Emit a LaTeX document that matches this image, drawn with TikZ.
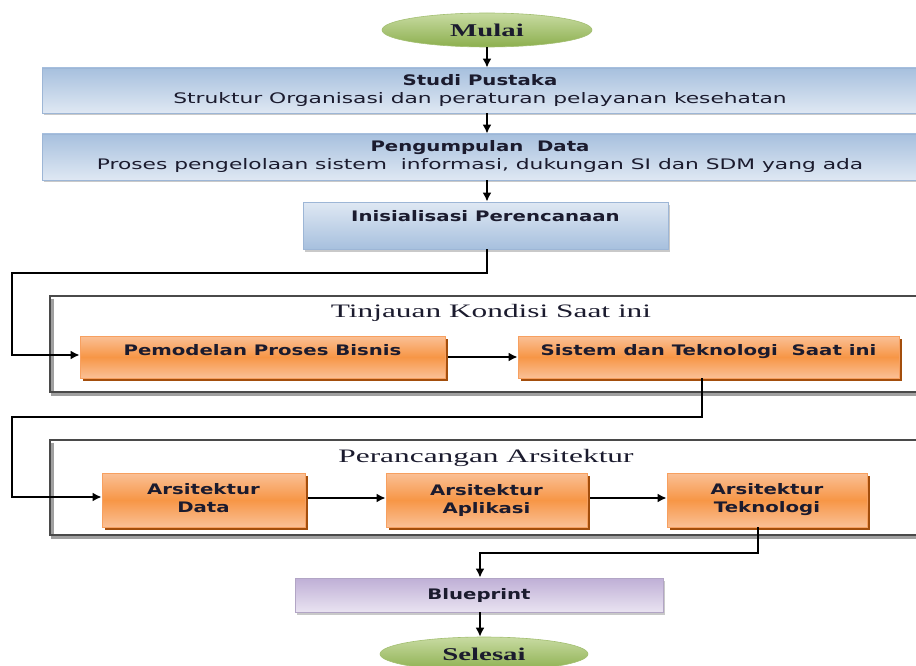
\documentclass[tikz,border=0pt]{standalone}
\usepackage{fontspec}
\usetikzlibrary{arrows.meta,shapes.geometric,shadows}
\newfontfamily\boxreg[FakeStretch=1.5]{DejaVu Sans}
\newfontfamily\boxbold[FakeStretch=1.36]{DejaVu Sans}
\newfontfamily\titlefont[FakeStretch=1.65]{Liberation Serif}
\newfontfamily\termfont[FakeStretch=1.6]{Liberation Serif}
\definecolor{bluetop}{HTML}{A7C0DE}
\definecolor{bluebot}{HTML}{DFE8F3}
\definecolor{blueline}{HTML}{9DB6D6}
\definecolor{orangemid}{HTML}{F79646}
\definecolor{orangelt}{HTML}{FAC096}
\definecolor{orangeline}{HTML}{F7A060}
\definecolor{orangeshadow}{HTML}{A34E0C}
\definecolor{purptop}{HTML}{BFAFD6}
\definecolor{purpbot}{HTML}{E9E3F1}
\definecolor{greentop}{HTML}{C8DBA2}
\definecolor{greenbot}{HTML}{8CAF4E}
\definecolor{txtdark}{HTML}{1B1B2E}
\definecolor{framedark}{HTML}{4A4A4A}
\definecolor{framegray}{HTML}{A0A0A0}
\tikzset{
  arr/.style={line width=2pt, -{Latex[length=9pt,width=9pt]}},
  basebox/.style={rectangle, inner sep=0pt, align=center, text=txtdark,
    font=\fontsize{14.5}{18}\selectfont},
  bluebox/.style={basebox, draw=blueline, line width=0.8pt,
    drop shadow={shadow xshift=2pt, shadow yshift=-2.5pt, fill=black!35, opacity=0.6}},
  orangebox/.style={basebox, draw=orangeline, line width=0.8pt,
    top color=orangelt, bottom color=orangelt, middle color=orangemid,
    drop shadow={shadow xshift=3pt, shadow yshift=-3pt, fill=orangeshadow, opacity=1}},
  purplebox/.style={basebox, draw=purptop!80!gray, line width=0.8pt,
    top color=purptop, bottom color=purpbot,
    drop shadow={shadow xshift=2pt, shadow yshift=-2.5pt, fill=black!35, opacity=0.6}},
  termnode/.style={ellipse, inner sep=0pt, draw=greenbot!80!white, line width=0.6pt,
    top color=greentop, bottom color=greenbot, text=txtdark,
    font=\termfont\bfseries\fontsize{18}{20}\selectfont},
  frametitle/.style={inner sep=0pt, text=txtdark, font=\titlefont\fontsize{19}{22}\selectfont},
  framemain/.style={draw=framedark, line width=1.5pt},
  frameshade/.style={draw=framegray, line width=2.6pt},
}
\begin{document}
\begin{tikzpicture}[x=1pt,y=-1pt]
\useasboundingbox (0,0) rectangle (916,666);
\clip (0,0) rectangle (916,666);
\fill[white] (0,0) rectangle (916,666);

% frames
\draw[frameshade] (52.5,298.5) -- (52.5,394.5) -- (920,394.5);
\draw[framemain] (920,296) -- (50,296) -- (50,392) -- (920,392);
\draw[frameshade] (52.5,442.5) -- (52.5,537.5) -- (920,537.5);
\draw[framemain] (920,440) -- (50,440) -- (50,535) -- (920,535);
\node[frametitle] (ttin) at (491,313) {Tinjauan Kondisi Saat ini};
\node[frametitle] (tper) at (486,458) {Perancangan Arsitektur};

% nodes
\node[termnode, minimum width=210pt, minimum height=34pt] (mulai) at (487,30) {Mulai};
\node[bluebox, top color=bluetop, bottom color=bluebot, minimum width=876pt, minimum height=45pt] (studi) at (480,90.5)
  {{\boxbold\bfseries Studi Pustaka}\\{\boxreg Struktur Organisasi dan peraturan pelayanan kesehatan}};
\node[bluebox, top color=bluetop, bottom color=bluebot, minimum width=876pt, minimum height=46pt] (peng) at (480,157)
  {{\boxbold\bfseries Pengumpulan\ \ Data}\\{\boxreg Proses pengelolaan sistem\ \ informasi, dukungan SI dan SDM yang ada}};
\node[bluebox, top color=bluebot, bottom color=bluetop, minimum width=365pt, minimum height=47pt,
  text height=11pt, text depth=19pt] (ini) at (485.5,225.5) {\boxbold\bfseries Inisialisasi Perencanaan};

\node[orangebox, minimum width=365pt, minimum height=42pt, text height=11pt, text depth=15pt] (pem) at (262.5,357)
  {\boxbold\bfseries Pemodelan Proses Bisnis};
\node[orangebox, minimum width=381pt, minimum height=42pt, text height=11pt, text depth=15pt] (sis) at (708.5,357)
  {\boxbold\bfseries Sistem dan Teknologi\ \ Saat ini};

\node[orangebox, minimum width=203pt, minimum height=54pt] (data) at (203.5,500)
  {\boxbold\bfseries Arsitektur\\\boxbold\bfseries Data\vphantom{g}};
\node[orangebox, minimum width=201pt, minimum height=54pt] (apl) at (486.5,500)
  {\boxbold\bfseries Arsitektur\\\boxbold\bfseries Aplikasi};
\node[orangebox, minimum width=200pt, minimum height=54pt] (tek) at (767,500)
  {\boxbold\bfseries Arsitektur\\\boxbold\bfseries Teknologi};

\node[purplebox, minimum width=368pt, minimum height=34pt] (blue) at (479,595)
  {\boxbold\bfseries Blueprint};
\node[termnode, minimum width=208pt, minimum height=34pt] (selesai) at (484,654) {Selesai};

% helper coordinates
\coordinate (c1) at (12,273);
\coordinate (c2) at (12,417);
\coordinate (c3) at (480,553);

% connectors
\draw[arr] (mulai.south) -- (mulai.south |- studi.north);
\draw[arr] (mulai.south |- studi.south) -- (mulai.south |- peng.north);
\draw[arr] (mulai.south |- peng.south) -- (mulai.south |- ini.north);
\draw[arr] ([xshift=1.5pt]ini.south) |- (c1) |- ([yshift=2pt]pem.west);
\draw[arr] ([xshift=3pt]pem.east) -- (sis.west);
\draw[arr] ([xshift=-6.5pt]sis.south) |- (c2) |- ([yshift=3pt]data.west);
\draw[arr] ([xshift=3pt,yshift=2pt]data.east) -- ([yshift=2pt]apl.west);
\draw[arr] ([xshift=3pt,yshift=2pt]apl.east) -- ([yshift=2pt]tek.west);
\draw[arr] ([xshift=-9pt]tek.south) |- (c3) -- (c3 |- blue.north);
\draw[arr] (c3 |- blue.south) -- (c3 |- selesai.north);
\end{tikzpicture}
\end{document}
